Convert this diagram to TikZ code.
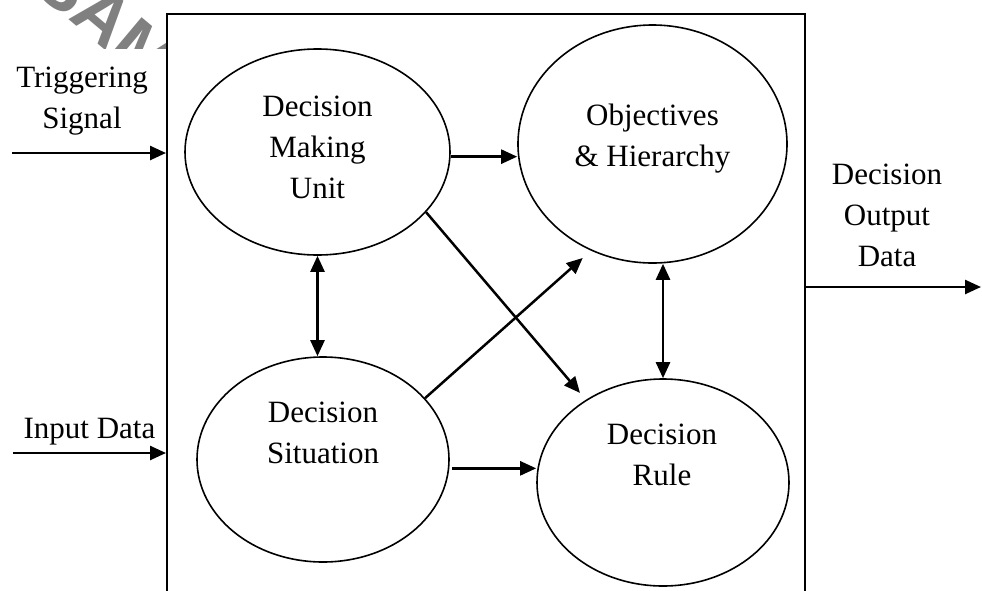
\documentclass[tikz,border=0pt]{standalone}
\usepackage{fontspec}
\setmainfont{Liberation Serif}
\newfontfamily\marksans{Liberation Sans}
\usetikzlibrary{arrows.meta,shapes.geometric}

\begin{document}
\begin{tikzpicture}[x=1pt,y=-1pt,
  lbl/.style={font=\fontsize{31}{41}\selectfont, align=center, inner sep=0pt, anchor=north},
  bubble/.style={ellipse, draw, line width=1.6pt, inner sep=0pt, fill=white},
  tip/.tip={Triangle[length=16pt,width=14pt]},
  flow/.style={line width=2.5pt, -tip},
  both/.style={line width=2.5pt, tip-tip},
]
\useasboundingbox (0,0) rectangle (982,590);
\fill[white] (0,0) rectangle (982,590);

% faint stamp, only its upper left corner shows
\begin{scope}
  \clip (0,0) rectangle (165,48);
  \node[text=black!50, font=\marksans\bfseries\fontsize{72}{72}\selectfont,
        rotate=-40, anchor=west, inner sep=0pt] (stamp) at (46,-31) {SAMPLE};
\end{scope}

% the system boundary, open towards the bottom
\node[draw, line width=2pt, fill=white, minimum width=638pt, minimum height=620pt,
      inner sep=0pt, anchor=north west] (sys) at (166,13) {};

% the four components
\node[bubble, minimum width=265pt, minimum height=206pt] (dmu)  at (317.5,152) {};
\node[bubble, minimum width=269pt, minimum height=238pt] (obj)  at (652.5,144) {};
\node[bubble, minimum width=252pt, minimum height=205pt] (sit)  at (323,459.5) {};
\node[bubble, minimum width=252pt, minimum height=207pt] (rule) at (663,482.5) {};

\node[lbl] (dmutext)  at (317.5,96) {Decision\\Making\\Unit};
\node[lbl] (objtext)  at (652.5,104) {Objectives\\\& Hierarchy};
\node[lbl] (sittext)  at (323,402) {Decision\\Situation};
\node[lbl] (ruletext) at (662,424) {Decision\\Rule};

% outer labels
\node[lbl] (trig) at (82,67) {Triggering\\Signal};
\node[lbl] (inp) at (89.5,417.5) {Input Data};
\node[lbl] (out) at (887,164) {Decision\\Output\\Data};

% free ends of the outer flows
\coordinate (trigsrc) at (12,153);
\coordinate (inpsrc)  at (13,453);
\coordinate (outdst)  at (981,287);

\draw[flow] (trigsrc) -- (trigsrc -| sys.west);
\draw[flow] (inpsrc) -- (inpsrc -| sys.west);
\draw[flow] (outdst -| sys.east) -- (outdst);

% internal relations
\draw[flow] (dmu.-2) -- (obj.west |- dmu.-2);
\draw[both] (dmu.south) -- (dmu.south |- sit.north);
\draw[both] (rule.north |- obj.south) -- (rule.north);
\draw[flow, shorten >=9pt] (dmu.-29) -- (rule.133);
\draw[flow, shorten >=11pt] (sit.31) -- (obj.240);
\draw[flow, shorten <=3pt] (sit.-4) -- (rule.west |- sit.-4);
\end{tikzpicture}
\end{document}
